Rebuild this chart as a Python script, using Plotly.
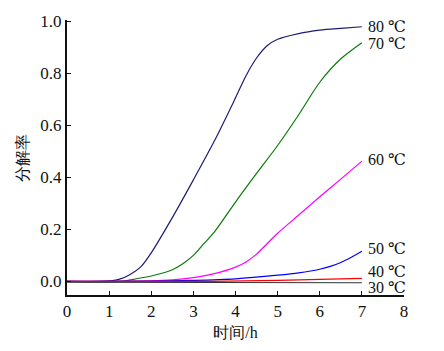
import plotly.graph_objects as go

# Data (time in h, decomposition rate)
t80 = [0, 0.8, 1.0, 1.25, 1.5, 1.75, 2.0, 2.5, 3.0, 3.5, 4.0, 4.25, 4.5, 4.75, 5.0, 5.5, 6.0, 6.5, 7.0]
v80 = [0, 0, 0.002, 0.009, 0.027, 0.056, 0.11, 0.245, 0.39, 0.54, 0.705, 0.79, 0.858, 0.905, 0.93, 0.952, 0.965, 0.972, 0.978]

t70 = [0, 1.25, 1.5, 2.0, 2.5, 2.75, 3.0, 3.25, 3.5, 4.0, 4.5, 5.0, 5.5, 6.0, 6.5, 7.0]
v70 = [0, 0, 0.006, 0.021, 0.045, 0.068, 0.1, 0.145, 0.19, 0.305, 0.415, 0.522, 0.64, 0.765, 0.855, 0.917]

t60 = [0, 2.0, 2.5, 3.0, 3.5, 4.0, 4.25, 4.5, 4.75, 5.0, 5.5, 6.0, 6.5, 7.0]
v60 = [0, 0.002, 0.006, 0.015, 0.03, 0.055, 0.075, 0.105, 0.145, 0.185, 0.255, 0.325, 0.393, 0.462]

t50 = [0, 2.0, 3.0, 4.0, 5.0, 5.5, 6.0, 6.25, 6.5, 6.75, 7.0]
v50 = [0, 0.001, 0.004, 0.01, 0.024, 0.033, 0.047, 0.058, 0.073, 0.093, 0.116]

t40 = [0, 3.0, 4.2, 5.0, 6.0, 7.0]
v40 = [0, 0.0, 0.002, 0.004, 0.008, 0.012]

t30 = [0, 7.0]
v30 = [-0.003, -0.005]

series_names = ["80 ℃", "70 ℃", "60 ℃", "50 ℃", "40 ℃", "30 ℃"]
series_t = [t80, t70, t60, t50, t40, t30]
series_v = [v80, v70, v60, v50, v40, v30]
series_colors = ["#1c1c78", "#0a7a0a", "#ff00ff", "#0000ff", "#ff0000", "#333333"]
label_y = [0.978, 0.915, 0.467, 0.126, 0.040, -0.022]

x_ticks = [0, 1, 2, 3, 4, 5, 6, 7, 8]
y_ticks = [0.0, 0.2, 0.4, 0.6, 0.8, 1.0]

FONT = "Times New Roman, Liberation Serif, DejaVu Serif, serif"

fig = go.Figure()
for name, tt, vv, c in zip(series_names, series_t, series_v, series_colors):
    fig.add_trace(go.Scatter(x=tt, y=vv, mode="lines", name=name,
                             line=dict(color=c, width=1.2, shape="spline", smoothing=0.8)))

for name, ly in zip(series_names, label_y):
    fig.add_annotation(x=7.1, y=ly, xref="x", yref="y", text=name, showarrow=False,
                       xanchor="left", yanchor="middle",
                       font=dict(family=FONT, size=16, color="#111"))

fig.update_layout(
    width=444, height=351,
    margin=dict(l=67, r=40, t=13, b=53),
    paper_bgcolor="white", plot_bgcolor="white",
    showlegend=False,
    font=dict(family=FONT, size=16, color="#111"),
)
fig.update_xaxes(range=[0, 8], tickvals=x_ticks, ticktext=[str(v) for v in x_ticks],
                 showline=True, linecolor="#111", linewidth=2, ticks="inside", ticklen=4,
                 tickcolor="#111", showgrid=False, zeroline=False,
                 tickfont=dict(family=FONT, size=17),
                 title=dict(text="时间/h", font=dict(family=FONT, size=16), standoff=6))
fig.update_yaxes(range=[-0.052, 1.004], tickvals=y_ticks, ticktext=[f"{v:.1f}" for v in y_ticks],
                 showline=True, linecolor="#111", linewidth=2, ticks="inside", ticklen=4,
                 tickcolor="#111", showgrid=False, zeroline=False,
                 tickfont=dict(family=FONT, size=17),
                 title=dict(text="分解率", font=dict(family=FONT, size=16), standoff=8))

fig.write_html("out.html")
